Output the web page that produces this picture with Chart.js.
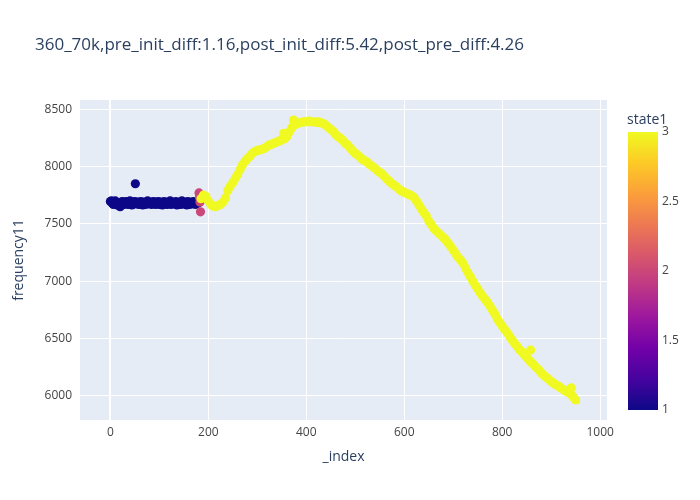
<!DOCTYPE html>
<html>
<head>
<meta charset="utf-8">
<script src="https://cdn.jsdelivr.net/npm/chart.js@4"></script>
<style>
html, body { margin:0; padding:0; background:#fff; }
#wrap { width:700px; height:500px; position:relative; }
</style>
</head>
<body>
<div id="wrap"><canvas id="c" width="700" height="500"></canvas></div>
<script>
// data ===================================================================
const titleText = '360_70k,pre_init_diff:1.16,post_init_diff:5.42,post_pre_diff:4.26'
const xTicks = [0, 200, 400, 600, 800, 1000]
const yTicks = [6000, 6500, 7000, 7500, 8000, 8500]
const cbTicks = [1, 1.5, 2, 2.5, 3]

// state 1 (dark blue)
const idx1 = [0,2,4,6,8,10,12,14,16,18,20,22,24,26,28,30,32,34,36,38,40,42,44,46,48,50,51,52,54,56,58,60,62,64,66,68,70,72,74,76,78,80,82,84,86,88,90,92,94,96,98,100,102,104,106,108,110,112,114,116,118,120,122,124,126,128,130,132,134,136,138,140,142,144,146,148,150,152,154,156,158,160,162,164,166,168,170,172,174,176,178,180]
const freq1 = [7695,7700,7680,7670,7690,7700,7675,7665,7685,7660,7650,7680,7695,7690,7670,7685,7695,7680,7670,7690,7700,7685,7665,7680,7690,7695,7850,7675,7685,7690,7670,7680,7695,7685,7665,7690,7680,7670,7690,7700,7675,7685,7690,7670,7680,7695,7685,7670,7690,7680,7695,7670,7685,7690,7665,7680,7695,7675,7685,7670,7690,7680,7700,7670,7685,7690,7675,7680,7695,7665,7685,7680,7690,7670,7700,7685,7675,7690,7680,7665,7695,7685,7670,7690,7680,7675,7695,7685,7670,7690,7680,7685]

// state 2 (pink)
const idx2 = [181, 182, 183, 184]
const freq2 = [7770, 7730, 7690, 7605]

// state 3 (yellow)
const idx3 = [185,190,195,200,205,210,215,220,225,230,235,240,245,250,255,260,265,270,275,280,285,290,295,300,305,310,315,320,325,330,335,340,345,350,354,355,360,365,370,374,375,380,385,390,395,400,405,410,415,420,425,430,435,440,445,450,455,460,465,470,475,480,485,490,495,500,505,510,515,520,525,530,535,540,545,550,555,560,565,570,575,580,585,590,595,600,605,610,615,620,625,630,635,640,645,650,655,660,665,670,675,680,685,690,695,700,705,710,715,720,725,730,735,740,745,750,755,760,765,770,775,780,785,790,795,800,805,810,815,820,825,830,835,840,845,850,855,858,860,865,870,875,880,885,890,895,900,905,910,915,920,925,930,935,940,941,945,950]
const freq3 = [7720,7750,7740,7700,7670,7655,7650,7660,7670,7690,7725,7790,7830,7860,7900,7930,7975,8015,8045,8070,8090,8115,8130,8140,8145,8150,8160,8175,8190,8195,8205,8215,8220,8235,8290,8240,8260,8300,8335,8405,8360,8370,8380,8385,8390,8390,8395,8390,8390,8385,8390,8380,8375,8360,8340,8325,8305,8280,8260,8245,8225,8200,8185,8160,8135,8115,8100,8080,8060,8050,8035,8015,8000,7985,7965,7950,7935,7910,7890,7870,7850,7835,7820,7800,7785,7775,7765,7755,7745,7730,7700,7665,7630,7600,7570,7525,7495,7465,7440,7420,7400,7380,7360,7330,7300,7270,7240,7210,7185,7155,7115,7075,7040,7000,6965,6935,6900,6870,6840,6815,6785,6750,6715,6670,6640,6610,6580,6550,6520,6490,6460,6435,6405,6385,6360,6335,6310,6400,6290,6270,6245,6225,6200,6180,6160,6145,6125,6110,6095,6085,6070,6055,6040,6030,6015,6070,5990,5965]

// plasma colour scale
const plasma = ['#0d0887','#46039f','#7201a8','#9c179e','#bd3786','#d8576b','#ed7953','#fb9f3a','#fdca26','#f0f921']

const hexRgb = h => [1,3,5].map(i => parseInt(h.substr(i,2),16))
const stateColor = s => {
	const t = (s - 1) / 2 * (plasma.length - 1)
	const i = Math.min(Math.floor(t), plasma.length - 2)
	const f = t - i
	const a = hexRgb(plasma[i]), b = hexRgb(plasma[i+1])
	return 'rgb(' + a.map((v,k) => Math.round(v + (b[k]-v)*f)).join(',') + ')'
}

const pts = [], cols = []
const add = (ix, fq, s) => ix.forEach((v, i) => { pts.push({x:v, y:fq[i]}); cols.push(stateColor(s)) })
add(idx1, freq1, 1)
add(idx2, freq2, 2)
add(idx3, freq3, 3)

// layout ==================================================================
const P = {l:80, r:607, t:100, b:420}
const font = '"Open Sans", verdana, arial, sans-serif'

const decor = {
	id: 'decor',
	beforeDraw(c) {
		const g = c.ctx, a = c.chartArea
		g.save()
		g.fillStyle = '#e5ecf6'
		g.fillRect(a.left, a.top, a.right - a.left, a.bottom - a.top)
		g.restore()
	},
	afterDraw(c) {
		const g = c.ctx, a = c.chartArea
		g.save()
		g.fillStyle = '#2a3f5f'
		g.textBaseline = 'middle'
		g.font = '17px ' + font
		g.textAlign = 'left'
		g.fillText(titleText, 35, 45)

		g.font = '14px ' + font
		g.textAlign = 'center'
		g.fillText('_index', (a.left + a.right) / 2, 457)
		g.translate(19, (a.top + a.bottom) / 2)
		g.rotate(-Math.PI / 2)
		g.fillText('frequency11', 0, 0)
		g.restore()

		// colour bar
		const x0 = 628, w = 30, y0 = 132, y1 = 410
		g.save()
		const grad = g.createLinearGradient(0, y1, 0, y0)
		plasma.forEach((p, i) => grad.addColorStop(i / (plasma.length - 1), p))
		g.fillStyle = grad
		g.fillRect(x0, y0, w, y1 - y0)
		g.fillStyle = '#2a3f5f'
		g.font = '14px ' + font
		g.textAlign = 'left'
		g.textBaseline = 'middle'
		g.fillText('state1', x0 - 1, 120)
		g.fillStyle = '#444'
		g.font = '12px ' + font
		cbTicks.forEach(v => {
			const y = y1 - (v - 1) / 2 * (y1 - y0)
			g.fillText(String(v), x0 + w + 4, y)
		})
		g.restore()
	}
}

new Chart(document.getElementById('c'), {
	type: 'scatter',
	data: {
		datasets: [{
			data: pts,
			backgroundColor: cols,
			borderWidth: 0,
			pointRadius: 4.6,
			pointHoverRadius: 4.6,
		}]
	},
	options: {
		responsive: false,
		animation: false,
		devicePixelRatio: 1,
		layout: { padding: { left: 0, right: 700 - P.r, top: P.t, bottom: 0 } },
		plugins: { legend: { display: false }, tooltip: { enabled: false } },
		scales: {
			x: {
				type: 'linear', min: -62, max: 1014,
				afterBuildTicks: s => { s.ticks = xTicks.map(v => ({value: v})) },
				afterFit: s => { s.height = 500 - P.b },
				border: { display: false },
				grid: {
					color: '#fff', drawTicks: false,
					lineWidth: ctx => ctx.tick && ctx.tick.value === 0 ? 2 : 1,
				},
				ticks: { color: '#444', font: { family: font, size: 12 }, padding: 5, maxRotation: 0, callback: v => String(v) },
			},
			y: {
				type: 'linear', min: 5790, max: 8580,
				afterBuildTicks: s => { s.ticks = yTicks.map(v => ({value: v})) },
				afterFit: s => { s.width = P.l },
				border: { display: false },
				grid: { color: '#fff', drawTicks: false, lineWidth: 1 },
				ticks: { color: '#444', font: { family: font, size: 12 }, padding: 8, callback: v => String(v) },
			}
		}
	},
	plugins: [decor]
})
</script>
</body>
</html>
